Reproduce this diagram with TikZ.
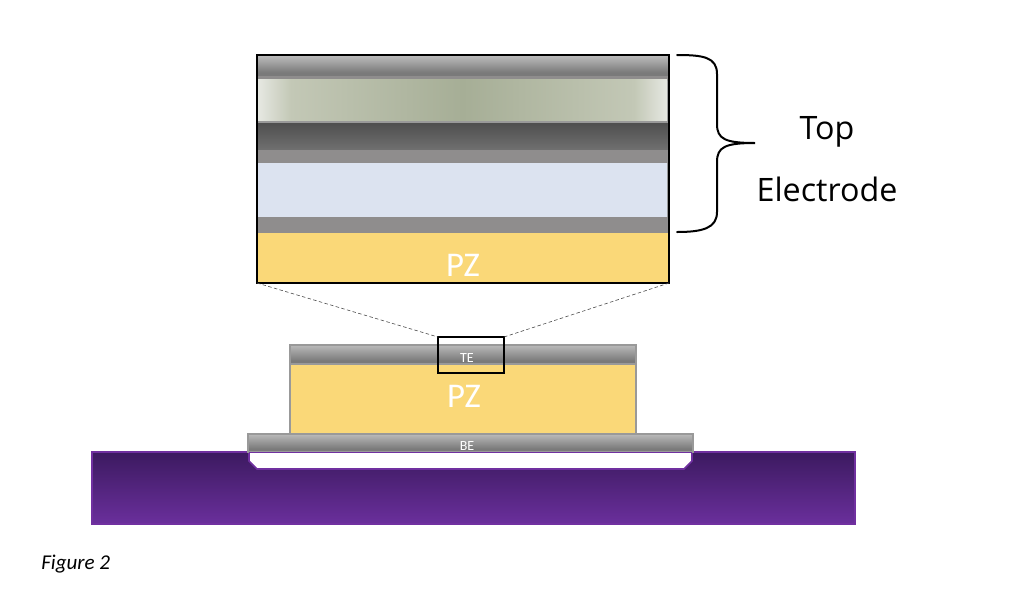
\documentclass[tikz,border=0pt]{standalone}
\usepackage{fontspec}
\setmainfont{Carlito}
\newfontfamily\bracefont{Open Sans}
\definecolor{metalB}{HTML}{7A7A7A}
\definecolor{metalD}{HTML}{BABABA}
\definecolor{greenC}{HTML}{A6AE96}
\definecolor{greenE}{HTML}{E6E8E2}
\definecolor{greenM}{HTML}{C3C8B6}
\definecolor{darkT}{HTML}{4F4F4F}
\definecolor{darkB}{HTML}{707070}
\definecolor{bandgray}{HTML}{8F8D8D}
\definecolor{paleblue}{HTML}{DCE3F0}
\definecolor{pzyellow}{HTML}{FAD878}
\definecolor{framegray}{HTML}{999999}
\definecolor{subline}{HTML}{7030A0}
\definecolor{subdark}{HTML}{3C1A60}
\definecolor{sublight}{HTML}{6A2F9C}
\pgfdeclarehorizontalshading{greenband}{100bp}{
  color(0bp)=(greenE);
  color(25bp)=(greenE);
  color(29bp)=(greenM);
  color(50bp)=(greenC);
  color(71bp)=(greenM);
  color(75bp)=(greenE);
  color(100bp)=(greenE)}
\pgfdeclareverticalshading{metalflat}{100bp}{
  color(0bp)=(metalB);
  color(25bp)=(metalB);
  color(34bp)=(metalB);
  color(75bp)=(metalD);
  color(100bp)=(metalD)}
\pgfdeclareverticalshading{darkband}{100bp}{
  color(0bp)=(darkB);
  color(25bp)=(darkB);
  color(75bp)=(darkT);
  color(100bp)=(darkT)}
\tikzset{
  x=0.75pt,y=-0.75pt,
  pxsize/.style 2 args={minimum width=#1*0.75pt,minimum height=#2*0.75pt,anchor=north west,inner sep=0pt,outer sep=0pt},
  metal/.style={shading=metalflat},
  framed/.style={draw=framegray,line width=1.6pt},
  blackbox/.style={draw=black,line width=1.5pt,fill=none},
  guide/.style={draw=black!70,line width=0.45pt,dash pattern=on 2.6pt off 1.8pt},
  whitelabel/.style={text=white,inner sep=0pt},
  sidelabel/.style={font=\bracefont\fontsize{24.2}{28}\selectfont,inner sep=0pt,text=black}
}
\begin{document}
\begin{tikzpicture}
\useasboundingbox (0,0) rectangle (1024,597);
% substrate
\path[shade,shading angle=125,top color=subdark,bottom color=sublight,draw=subline,line width=1.3pt]
  (92,452) -- (249,452) -- (249,461) -- (257,469) -- (684,469) -- (692,461) -- (692,452) -- (855,452) -- (855,524) -- (92,524) -- cycle;
% small stack
\node[pxsize={445}{18},metal,framed] (be) at (248,434) {};
\node[pxsize={346}{70},fill=pzyellow,framed] (pz) at (290,364) {};
\node[pxsize={346}{19},metal,framed] (te) at (290,345) {};
\draw[subline,line width=1.3pt] (249,452.5) -- (692,452.5);
\node[whitelabel,font=\fontsize{26}{28}\selectfont] (pzlow) at (464,396) {PZ};
\node[whitelabel,font=\fontsize{10.5}{12}\selectfont] (telabel) at (467,357.5) {TE};
\node[whitelabel,font=\fontsize{10.5}{12}\selectfont] (belabel) at (467,446) {BE};
% enlarged stack
\node[pxsize={412}{228},fill=framegray] (back) at (257,55) {};
\node[pxsize={410}{20},metal] (l1) at (258,56) {};
\node[pxsize={410}{5},fill=bandgray] (l1b) at (258,76) {};
\node[pxsize={409}{41},shading=greenband] (l2) at (258,79) {};
\node[pxsize={410}{27},shading=darkband] (l3) at (258,123) {};
\node[pxsize={410}{13},fill=bandgray] (l4) at (258,150) {};
\node[pxsize={409}{54},fill=paleblue] (l5) at (258,163) {};
\node[pxsize={410}{16},fill=bandgray] (l6) at (258,217) {};
\node[pxsize={410}{49},fill=pzyellow] (l7) at (258,233) {};
\node[whitelabel,font=\fontsize{26}{28}\selectfont] (pztop) at (463,265) {PZ};
\node[pxsize={412}{228},blackbox] (zoombox) at (257,55) {};
\node[pxsize={66}{36},blackbox] (marker) at (438,337) {};
\draw[guide] (zoombox.south west) -- (marker.north west);
\draw[guide] (zoombox.south east) -- (marker.north east);
% brace
\coordinate (bracetop) at (677,55);
\coordinate (bracetip) at (755,143);
\coordinate (bracebot) at (677,232);
\draw[black,line width=1.5pt,line cap=round]
  (bracetop) .. controls (703,55) and (717,57) .. (717,74)
  -- (717,124) .. controls (717,139) and (725,143) .. (bracetip)
  .. controls (725,143) and (717,147) .. (717,162)
  -- (717,212) .. controls (717,228) and (703,232) .. (bracebot);
\node[sidelabel] (toplabel) at (827,132) {Top};
\node[sidelabel] (electrode) at (827,189) {Electrode};
\node[anchor=west,inner sep=0pt,font=\itshape\fontsize{15.8}{18}\selectfont] (figlabel) at (41,564) {Figure 2};
\end{tikzpicture}
\end{document}
